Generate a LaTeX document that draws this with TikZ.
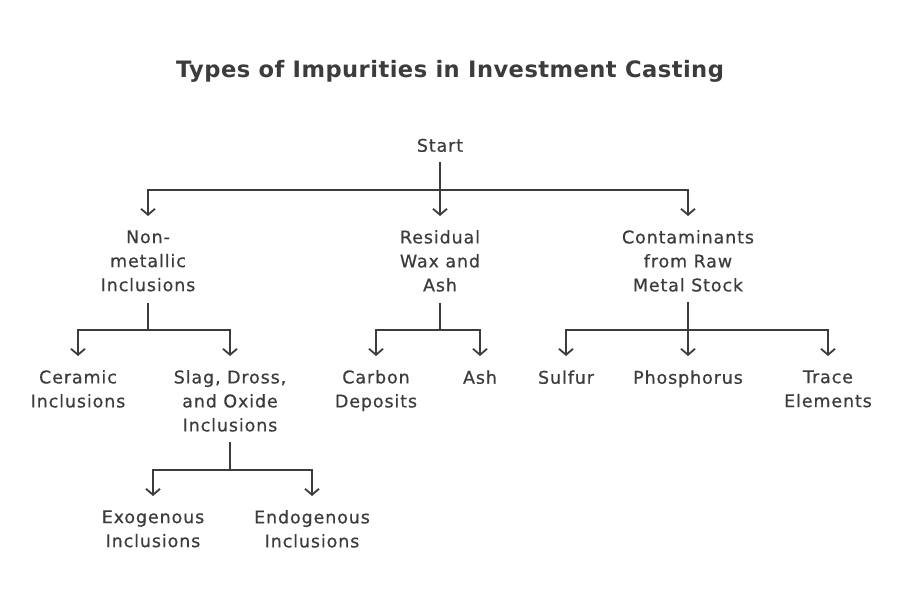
\documentclass[tikz,border=0pt]{standalone}
\usepackage{fontspec}
\setmainfont{DejaVu Sans}[LetterSpace=5,FakeBold=0.6]
\newfontfamily\titlefont{DejaVu Sans}[LetterSpace=2]
\usetikzlibrary{arrows.meta}
\definecolor{ink}{RGB}{60,60,60}
\begin{document}
\begin{tikzpicture}[x=1pt,y=-1pt,
  lbl/.style={text=ink,font=\fontsize{17.5}{24}\selectfont,align=center,inner sep=0pt,
    execute at begin node={\rule{0pt}{14pt}},
    execute at end node={\rule[-4.5pt]{0pt}{4.5pt}}},
  ln/.style={draw=ink,line width=1.8pt},
  ar/.style={ln,-{Straight Barb[length=6pt,width=14pt,line width=1.8pt]}}]
\useasboundingbox (0,0) rectangle (900,601);
\node[text=ink,font=\titlefont\fontsize{22.6}{27}\bfseries\selectfont] (title) at (450,71) {Types of Impurities in Investment Casting};
\node[lbl] (start) at (440,147) {Start};
\node[lbl] (nm) at (148,263) {Non-\\metallic\\Inclusions};
\node[lbl] (rw) at (440,263) {Residual\\Wax and\\Ash};
\node[lbl] (cm) at (688,263) {Contaminants\\from Raw\\Metal Stock};
\node[lbl] (ce) at (78,391) {Ceramic\\Inclusions};
\node[lbl] (sl) at (230,403) {Slag, Dross,\\and Oxide\\Inclusions};
\node[lbl] (cd) at (376,391) {Carbon\\Deposits};
\node[lbl] (ash) at (480,379) {Ash};
\node[lbl] (su) at (566,379) {Sulfur};
\node[lbl] (ph) at (688,379) {Phosphorus};
\node[lbl] (te) at (828,391) {Trace\\Elements};
\node[lbl] (ex) at (153,531) {Exogenous\\Inclusions};
\node[lbl] (en) at (312,531) {Endogenous\\Inclusions};
\coordinate (j0) at (440,190);
\coordinate (j1) at (148,330);
\coordinate (j2) at (440,330);
\coordinate (j3) at (688,330);
\coordinate (j4) at (230,470);
\draw[ln] ([yshift=-15pt]start.center) -- (j0);
\draw[ar] (j0) -| ([yshift=47pt]nm.center);
\draw[ar] (j0) -- ([yshift=47pt]rw.center);
\draw[ar] (j0) -| ([yshift=47pt]cm.center);
\draw[ln] ([yshift=-40pt]nm.center) -- (j1);
\draw[ar] (j1) -| ([yshift=35pt]ce.center);
\draw[ar] (j1) -| ([yshift=47pt]sl.center);
\draw[ln] ([yshift=-40pt]rw.center) -- (j2);
\draw[ar] (j2) -| ([yshift=35pt]cd.center);
\draw[ar] (j2) -| ([yshift=23pt]ash.center);
\draw[ln] ([yshift=-39pt]cm.center) -- (j3);
\draw[ar] (j3) -| ([yshift=23pt]su.center);
\draw[ar] (j3) -- ([yshift=23pt]ph.center);
\draw[ar] (j3) -| ([yshift=35pt]te.center);
\draw[ln] ([yshift=-39pt]sl.center) -- (j4);
\draw[ar] (j4) -| ([yshift=35pt]ex.center);
\draw[ar] (j4) -| ([yshift=35pt]en.center);
\end{tikzpicture}
\end{document}
